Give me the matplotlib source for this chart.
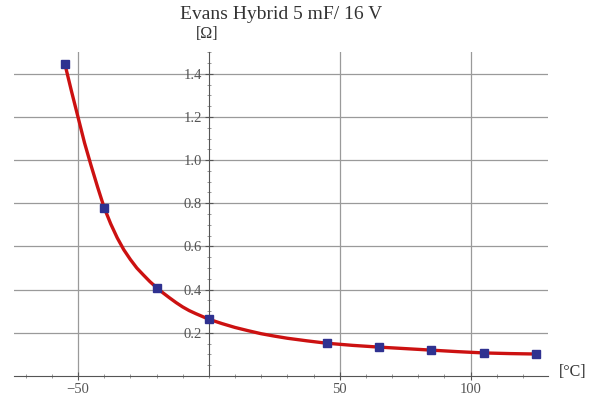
import matplotlib.pyplot as plt
from matplotlib.ticker import MultipleLocator, FixedLocator

plt.rcParams['font.family'] = ['Liberation Serif', 'DejaVu Serif']

# measured points
temp = [-55, -40, -20, 0, 45, 65, 85, 105, 125]
esr = [1.445, 0.78, 0.41, 0.263, 0.152, 0.134, 0.12, 0.106, 0.102]

# fitted curve
curve_t = [-55, -52.5, -50, -47.5, -45, -42.5, -40, -37.5, -35, -32.5, -30, -27.5, -25,
           -22.5, -20, -17.5, -15, -12.5, -10, -7.5, -5, -2.5, 0, 5, 10, 15, 20, 25, 30,
           37.5, 45, 55, 65, 75, 85, 95, 105, 115, 125]
curve_r = [1.445, 1.32, 1.2, 1.08, 0.975, 0.875, 0.78, 0.705, 0.64, 0.585, 0.54, 0.5, 0.468,
           0.437, 0.41, 0.385, 0.362, 0.34, 0.32, 0.303, 0.289, 0.276, 0.263, 0.243, 0.225,
           0.21, 0.196, 0.185, 0.175, 0.163, 0.152, 0.142, 0.134, 0.127, 0.12, 0.113, 0.107,
           0.104, 0.102]

xticks = [-50, 50, 100]
yticks = [0.2, 0.4, 0.6, 0.8, 1.0, 1.2, 1.4]

fig = plt.figure(figsize=(6.02, 3.95), dpi=100)
ax = fig.add_axes([0.023, 0.048, 0.887, 0.82])

ax.plot(curve_t, curve_r, color='#cc1111', lw=2.4, zorder=3)
ax.plot(temp, esr, 's', color='#2f3190', ms=6, zorder=4)

ax.set_xlim(-74.5, 129.5)
ax.set_ylim(0, 1.5)

for s in ['top', 'right']:
    ax.spines[s].set_visible(False)
ax.spines['left'].set_position(('data', 0))
ax.spines['bottom'].set_position(('data', 0))
ax.spines['left'].set_color('#555555')
ax.spines['bottom'].set_color('#555555')

ax.xaxis.set_major_locator(FixedLocator(xticks))
ax.yaxis.set_major_locator(FixedLocator(yticks))
ax.xaxis.set_minor_locator(MultipleLocator(10))
ax.yaxis.set_minor_locator(MultipleLocator(0.05))
ax.set_xticklabels(['\u221250', '50', '100'])
ax.set_yticklabels(['%.1f' % v for v in yticks])
ax.tick_params(which='major', direction='inout', length=6, width=0.8, color='#555555',
               labelsize=10.5, labelcolor='#555555', pad=2)
ax.tick_params(which='minor', direction='inout', length=3, width=0.6, color='#888888')

ax.grid(True, which='major', color='#9a9a9a', lw=0.9)

fig.text(0.467, 0.963, 'Evans Hybrid 5 mF/ 16 V', ha='center', va='center', fontsize=14, color='#333333')
fig.text(0.344, 0.915, '[\u03a9]', ha='center', va='center', fontsize=11.5, color='#333333')
fig.text(0.952, 0.057, '[\u00b0C]', ha='center', va='center', fontsize=11.5, color='#333333')

fig.savefig('out.png', dpi=100)
